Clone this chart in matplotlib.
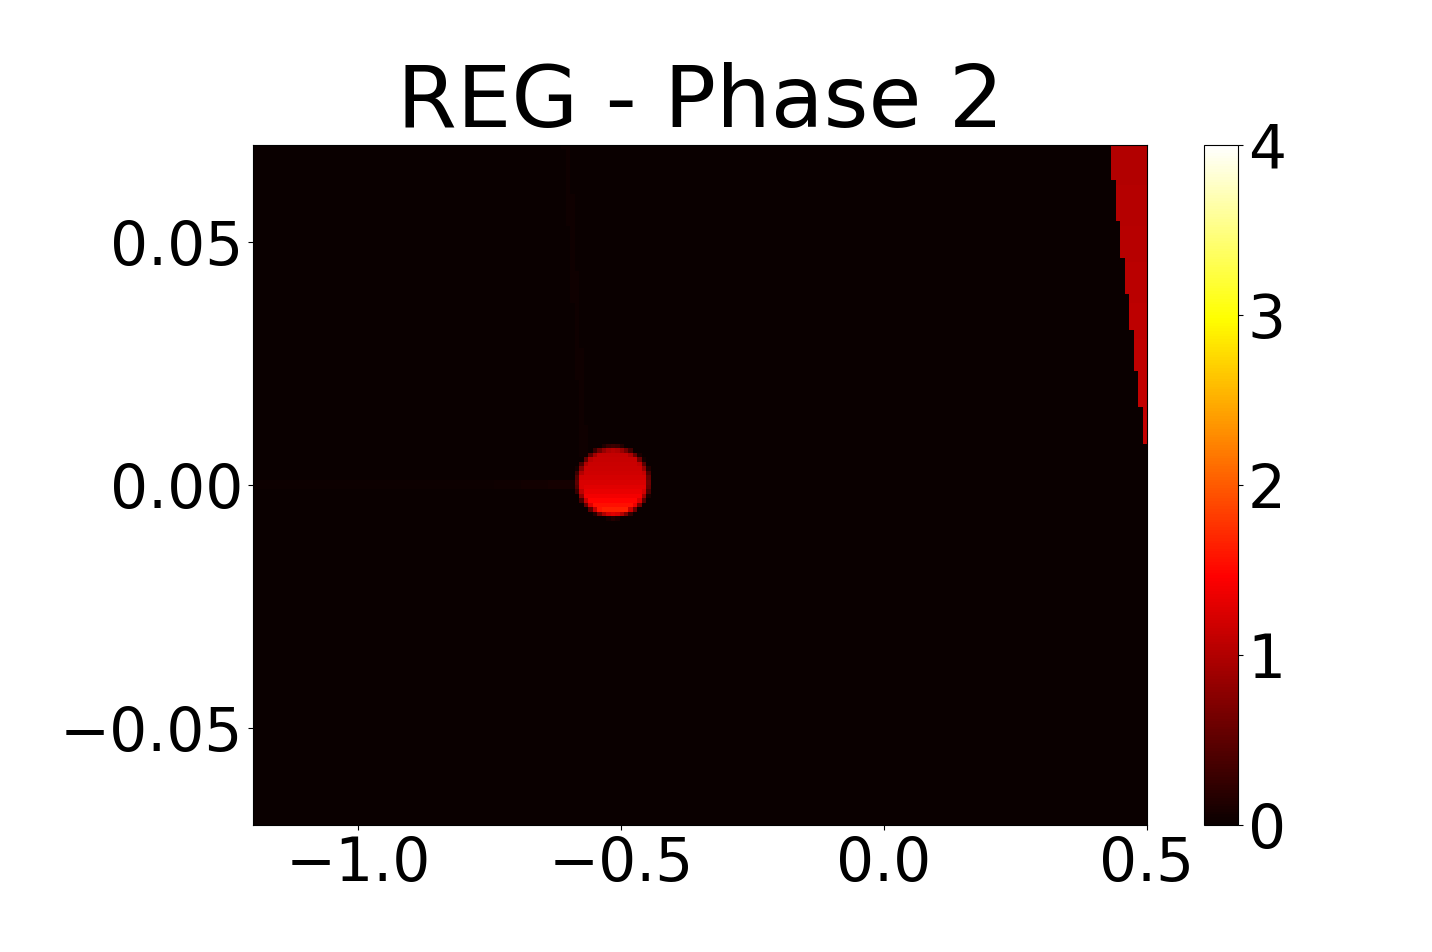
import numpy as np
import matplotlib
matplotlib.use("Agg")
import matplotlib.pyplot as plt

# grid / extent
x_range = [-1.2, 0.5]
y_range = [-0.07, 0.07]
nx, ny = 200, 150

# blob near (-0.52, 0)
blob_center = [-0.516, 0.0006]
blob_radius = [0.069, 0.0072]
blob_top_val = 1.12
blob_bottom_val = 1.8

# red wedge in top right corner (left edge of it)
wedge_edge_y = [0.0083, 0.07]
wedge_edge_x = [0.5, 0.432]
wedge_vals = [1.12, 1.0]  # bottom, top

# faint streaks
vstreak_y = [0.005, 0.07]
vstreak_x = [-0.57, -0.605]
vstreak_val = 0.045
hstreak_x = [-1.2, -0.75, -0.58]
hstreak_val = [0.02, 0.03, 0.08]
hstreak_y = 0.0

ticks_x = [-1.0, -0.5, 0.0, 0.5]
ticks_y = [-0.05, 0.0, 0.05]
cbar_ticks = [0, 1, 2, 3, 4]

xs = np.linspace(x_range[0], x_range[1], nx)
ys = np.linspace(y_range[0], y_range[1], ny)
X, Y = np.meshgrid(xs, ys)
Z = np.zeros_like(X)

# blob
r = np.sqrt(((X - blob_center[0]) / blob_radius[0]) ** 2 + ((Y - blob_center[1]) / blob_radius[1]) ** 2)
edge = np.clip((1.08 - r) / 0.2, 0, 1)
t = np.clip((blob_center[1] + blob_radius[1] - Y) / (2 * blob_radius[1]), 0, 1)
bval = blob_top_val + (blob_bottom_val - blob_top_val) * t ** 2.5
Z = np.maximum(Z, edge * bval)

# wedge
xb = np.interp(Y, wedge_edge_y, wedge_edge_x)
wv = np.interp(Y, wedge_edge_y, wedge_vals)
Z = np.where((X >= xb) & (Y >= wedge_edge_y[0]), wv, Z)

# streaks
xv = np.interp(Y, vstreak_y, vstreak_x)
vmask = (np.abs(X - xv) < 0.006) & (Y > vstreak_y[0])
Z = np.where(vmask, np.maximum(Z, vstreak_val), Z)
hv = np.interp(X, hstreak_x, hstreak_val)
hmask = (np.abs(Y - hstreak_y) < 0.0007) & (X < hstreak_x[-1])
Z = np.where(hmask, np.maximum(Z, hv), Z)

fig = plt.figure(figsize=(14.32, 9.52), dpi=100)
ax = fig.add_axes([0.1767, 0.1334, 0.6243, 0.7143])
cax = fig.add_axes([0.8408, 0.1334, 0.0237, 0.7143])

im = ax.imshow(Z, origin="lower", cmap="hot", vmin=0, vmax=4, aspect="auto",
               extent=[x_range[0], x_range[1], y_range[0], y_range[1]],
               interpolation="nearest")
ax.set_xticks(ticks_x)
ax.set_yticks(ticks_y)
ax.tick_params(labelsize=43)
ax.set_title("REG - Phase 2", fontsize=62)

cb = fig.colorbar(im, cax=cax, ticks=cbar_ticks)
cb.ax.tick_params(labelsize=43)

fig.savefig("out.png", dpi=100)
